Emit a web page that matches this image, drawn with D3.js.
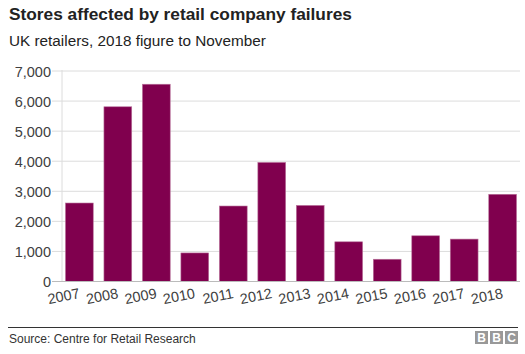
<!DOCTYPE html>
<html>
<head>
<meta charset="utf-8">
<script src="https://cdn.jsdelivr.net/npm/d3@7"></script>
<style>
	body { margin: 0; background: #fff; }
	text { font-family: "Liberation Sans", Arial, sans-serif; }
</style>
</head>
<body>
<div id="chart"></div>
<script>
	// values (2018 is to November)
	var years = ["2007", "2008", "2009", "2010", "2011", "2012", "2013", "2014", "2015", "2016", "2017", "2018"];
	var stores = [2610, 5810, 6560, 950, 2510, 3960, 2530, 1320, 740, 1520, 1410, 2900];
	var yTicks = [0, 1000, 2000, 3000, 4000, 5000, 6000, 7000];

	var width = 525;
	var height = 354;
	var margin = {top: 71, right: 5, bottom: 72.5, left: 62};
	var barColor = "#80004e";

	var svg = d3.select("#chart").append("svg")
		.attr("width", width)
		.attr("height", height);

	var x = d3.scaleBand()
		.domain(years)
		.range([margin.left, width - margin.right])
		.paddingInner(0.278)
		.paddingOuter(0.09);

	var y = d3.scaleLinear()
		.domain([0, 7000])
		.range([height - margin.bottom, margin.top]);

	// title + subtitle
	svg.append("text")
		.text("Stores affected by retail company failures")
		.attr("x", 9)
		.attr("y", 20)
		.style("font-size", "17.3px")
		.style("font-weight", "bold")
		.style("fill", "#222");
	svg.append("text")
		.text("UK retailers, 2018 figure to November")
		.attr("x", 9)
		.attr("y", 46)
		.style("font-size", "15.3px")
		.style("fill", "#222");

	// gridlines
	svg.append("g")
		.selectAll("line")
		.data(yTicks.slice(1))
		.enter().append("line")
		.attr("x1", 52)
		.attr("x2", 520)
		.attr("y1", function(d) { return y(d); })
		.attr("y2", function(d) { return y(d); })
		.style("stroke", "#dcdcdc")
		.style("stroke-width", 1);

	// vertical axis line
	svg.append("line")
		.attr("x1", margin.left)
		.attr("x2", margin.left)
		.attr("y1", y(7000) - 1)
		.attr("y2", y(0))
		.style("stroke", "#dcdcdc");

	var yAxis = d3.axisLeft(y)
		.tickValues(yTicks)
		.tickSize(0)
		.tickPadding(0)
		.tickFormat(d3.format(","));

	var yg = svg.append("g")
		.attr("transform", "translate(51, 0)")
		.call(yAxis);
	yg.select(".domain").remove();
	yg.selectAll("text")
		.attr("dy", "0.35em")
		.style("font-size", "14.5px")
		.style("fill", "#404040");

	// bars
	svg.append("g")
		.selectAll("rect")
		.data(stores)
		.enter().append("rect")
		.attr("x", function(d, i) { return x(years[i]); })
		.attr("y", function(d) { return y(d); })
		.attr("width", x.bandwidth())
		.attr("height", function(d) { return y(0) - y(d); })
		.style("fill", barColor)
		.style("stroke", "#b9739c")
		.style("stroke-width", 0.6);

	// baseline
	svg.append("line")
		.attr("x1", 52)
		.attr("x2", 520)
		.attr("y1", y(0))
		.attr("y2", y(0))
		.style("stroke", "#bbb");

	// x labels, slanted
	svg.append("g")
		.selectAll("text")
		.data(years)
		.enter().append("text")
		.text(function(d) { return d; })
		.attr("transform", function(d) {
			return "translate(" + (x(d) + x.bandwidth() / 2 + 1) + ", 298) rotate(-11)";
		})
		.style("text-anchor", "end")
		.style("font-size", "14.5px")
		.style("fill", "#404040");

	// footer
	svg.append("line")
		.attr("x1", 8)
		.attr("x2", 518)
		.attr("y1", 327.5)
		.attr("y2", 327.5)
		.style("stroke", "#333")
		.style("stroke-width", 1);

	svg.append("text")
		.text("Source: Centre for Retail Research")
		.attr("x", 9)
		.attr("y", 343)
		.style("font-size", "12px")
		.style("fill", "#333");

	// BBC blocks
	var logo = svg.append("g")
		.attr("transform", "translate(475, 331)");
	["B", "B", "C"].forEach(function(l, i) {
		logo.append("rect")
			.attr("x", i * 15)
			.attr("y", 0)
			.attr("width", 13)
			.attr("height", 13)
			.style("fill", "#999");
		logo.append("text")
			.text(l)
			.attr("x", i * 15 + 6.5)
			.attr("y", 11)
			.style("text-anchor", "middle")
			.style("font-size", "12px")
			.style("font-weight", "bold")
			.style("fill", "#fff");
	});
</script>
</body>
</html>
